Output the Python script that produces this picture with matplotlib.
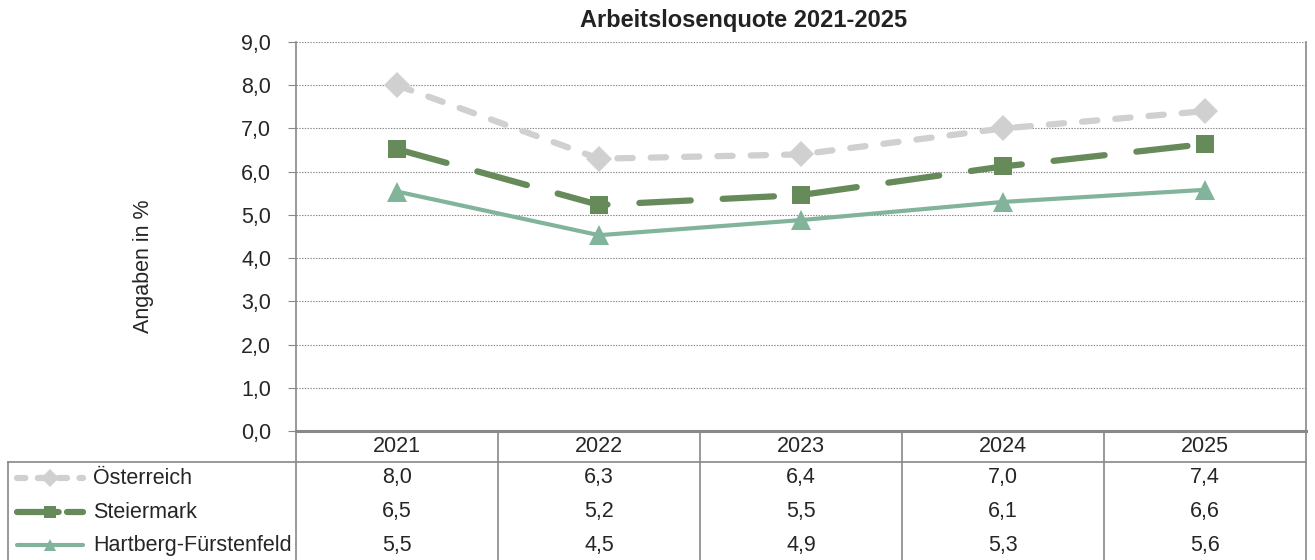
import matplotlib
matplotlib.use("Agg")
import matplotlib.pyplot as plt
from matplotlib.lines import Line2D

plt.rcParams['font.family'] = ['Liberation Sans', 'DejaVu Sans']
plt.rcParams['lines.scale_dashes'] = False

years = ["2021", "2022", "2023", "2024", "2025"]
series_names = ["Österreich", "Steiermark", "Hartberg-Fürstenfeld"]
oesterreich = [8.0, 6.3, 6.4, 7.0, 7.4]
steiermark = [6.52, 5.23, 5.46, 6.12, 6.64]
hartberg = [5.54, 4.53, 4.88, 5.30, 5.58]
y_ticks = [0, 1, 2, 3, 4, 5, 6, 7, 8, 9]

colors = ["#D0D0D0", "#668A5A", "#82B49B"]
markers = ["D", "s", "^"]
msizes = [13, 13, 14]
lws = [4.5, 4.5, 3.0]
dashes = [(11, 13), (37, 23), None]
data = [oesterreich, steiermark, hartberg]

FS = 15.5
TXT = "#262626"

W, H = 1315, 560
fig = plt.figure(figsize=(W / 100, H / 100), dpi=100)

def fx(px):
    return px / W

def fy(py):
    return 1 - py / H

ax_l, ax_r, ax_t, ax_b = 296, 1306, 42, 431
ax = fig.add_axes([fx(ax_l), fy(ax_b), fx(ax_r - ax_l), fy(ax_t) - fy(ax_b)])
x = list(range(len(years)))
for vals, c, m, ms, lw, d in zip(data, colors, markers, msizes, lws, dashes):
    ln, = ax.plot(x, vals, color=c, marker=m, markersize=ms, lw=lw,
                  solid_capstyle='round', dash_capstyle='round', zorder=3,
                  markeredgewidth=0)
    if d is not None:
        ln.set_dashes(d)

ax.set_xlim(-0.5, len(years) - 0.5)
ax.set_ylim(0, 9)
ax.set_yticks(y_ticks)
ax.set_yticklabels([f"{v:.1f}".replace(".", ",") for v in y_ticks], fontsize=FS, color=TXT)
ax.set_xticks([])
ax.grid(axis='y', color="#888888", linestyle=(0, (1, 1)), lw=0.8)
ax.spines['top'].set_visible(False)
ax.spines['left'].set_color("#888888")
ax.spines['left'].set_linewidth(1.2)
ax.spines['right'].set_color("#888888")
ax.spines['right'].set_linewidth(1.2)
ax.spines['bottom'].set_color("#888888")
ax.spines['bottom'].set_linewidth(2.2)
ax.tick_params(axis='y', length=6, color="#888888", pad=12)
ax.set_axisbelow(True)

fig.text(fx(744), fy(20), "Arbeitslosenquote 2021-2025", ha='center', va='center',
         fontsize=17, fontweight='bold', color="#222222")
fig.text(fx(143), fy(266), "Angaben in %", rotation=90, ha='center', va='center',
         fontsize=FS, color=TXT)

# data table
gc = "#888888"
col_w = (ax_r - ax_l) / len(years)
def fl(x0, y0, x1, y1, lw=1.0):
    fig.add_artist(Line2D([fx(x0), fx(x1)], [fy(y0), fy(y1)], color=gc, lw=lw))

for i in range(len(years) + 1):
    xx = ax_l + i * col_w
    fl(xx, ax_b, xx, H + 5, 1.2)
fl(8, 462, ax_r, 462, 1.2)
fl(8, 462, 8, H + 5, 1.2)

row_y = [478, 512, 545]
for i, yr in enumerate(years):
    cx = ax_l + (i + 0.5) * col_w
    fig.text(fx(cx), fy(447), yr, ha='center', va='center', fontsize=FS, color=TXT)
    for r, vals in enumerate(data):
        fig.text(fx(cx), fy(row_y[r]), f"{round(vals[i], 1):.1f}".replace(".", ","),
                 ha='center', va='center', fontsize=FS, color=TXT)

for r, (name, c, m, lw, d) in enumerate(zip(series_names, colors, markers, lws, dashes)):
    yy = fy(row_y[r])
    l = Line2D([fx(17), fx(83)], [yy, yy], color=c, lw=lw, solid_capstyle='round',
               dash_capstyle='round')
    if d is not None:
        l.set_dashes((6, 9) if r == 0 else (30, 6))
    fig.add_artist(l)
    fig.add_artist(Line2D([fx(50)], [yy], color=c, marker=m, markersize=9, markeredgewidth=0))
    fig.text(fx(93), yy, name, ha='left', va='center', fontsize=FS, color=TXT)

fig.savefig("out.png", dpi=100)
